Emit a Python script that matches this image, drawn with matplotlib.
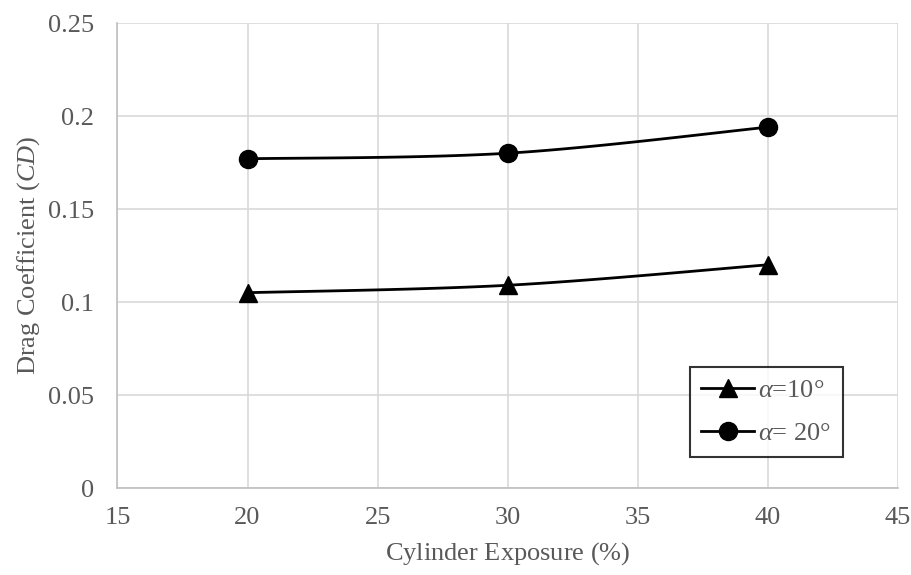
import numpy as np
import matplotlib
matplotlib.use("Agg")
import matplotlib.pyplot as plt
from matplotlib.lines import Line2D

# Drag coefficient vs. cylinder exposure for two angles of attack
exposure = [20, 30, 40]
cd_alpha10 = [0.105, 0.109, 0.120]
cd_alpha20 = [0.177, 0.180, 0.194]
series_labels = [r"$\alpha$=10°", r"$\alpha$= 20°"]
x_ticks = [15, 20, 25, 30, 35, 40, 45]
y_ticks = [0, 0.05, 0.1, 0.15, 0.2, 0.25]
y_tick_labels = ["0", "0.05", "0.1", "0.15", "0.2", "0.25"]

plt.rcParams["font.family"] = ["Liberation Serif", "DejaVu Serif"]
plt.rcParams["mathtext.fontset"] = "custom"
plt.rcParams["mathtext.rm"] = "Liberation Serif"
plt.rcParams["mathtext.it"] = "Liberation Serif:italic"
plt.rcParams["mathtext.default"] = "it"

TEXT = "#595959"
GRID = "#d9d9d9"
FS = 19


def smooth(xs, ys, n=60):
    """Cubic Bezier smoothing through the points (spreadsheet-style)."""
    pts = np.column_stack([xs, ys]).astype(float)
    out = []
    for i in range(len(pts) - 1):
        p0 = pts[i - 1] if i > 0 else pts[i]
        p1, p2 = pts[i], pts[i + 1]
        p3 = pts[i + 2] if i + 2 < len(pts) else pts[i + 1]
        c1 = p1 + (p2 - p0) / 6.0
        c2 = p2 - (p3 - p1) / 6.0
        t = np.linspace(0, 1, n)[:, None]
        seg = ((1 - t) ** 3) * p1 + 3 * ((1 - t) ** 2) * t * c1 + 3 * (1 - t) * t ** 2 * c2 + t ** 3 * p2
        out.append(seg if i == 0 else seg[1:])
    seg = np.vstack(out)
    return seg[:, 0], seg[:, 1]


fig = plt.figure(figsize=(9.12, 5.75), dpi=100)
ax = fig.add_axes([0.1288, 0.1513, 0.8558, 0.8087])

for ys, marker, ms in [(cd_alpha10, "^", 13), (cd_alpha20, "o", 13)]:
    sx, sy = smooth(exposure, ys)
    ax.plot(sx, sy, color="black", lw=2.0, zorder=3, solid_capstyle="round")
    ax.plot(exposure, ys, linestyle="none", marker=marker, ms=ms, color="black", zorder=4)

ax.set_xlim(15, 45)
ax.set_ylim(0, 0.25)
ax.set_xticks(x_ticks)
ax.set_yticks(y_ticks)
ax.set_yticklabels(y_tick_labels)
ax.grid(True, color=GRID, lw=1.2)
ax.set_axisbelow(True)
ax.tick_params(length=0, labelsize=FS, colors=TEXT)
ax.tick_params(axis="x", pad=14)
ax.tick_params(axis="y", pad=17)
for side in ["top", "right"]:
    ax.spines[side].set_visible(False)
for side in ["left", "bottom"]:
    ax.spines[side].set_color("#bfbfbf")
    ax.spines[side].set_linewidth(1.2)

ax.set_xlabel(r"Cylinder Exposure $(\%)$", fontsize=FS, color=TEXT, labelpad=8)
ax.set_ylabel(r"Drag Coefficient ($CD$)", fontsize=FS, color=TEXT, labelpad=4)

handles = [
    Line2D([], [], color="black", lw=2.0, marker="^", ms=13),
    Line2D([], [], color="black", lw=2.0, marker="o", ms=13),
]
leg = ax.legend(handles, series_labels, loc="lower right",
                bbox_to_anchor=(0.9295, 0.0667), fontsize=FS, frameon=True,
                fancybox=False, edgecolor="black", handlelength=2.0,
                handletextpad=0.15, borderpad=0.45, labelspacing=0.75,
                borderaxespad=0)
leg.get_frame().set_linewidth(1.5)
for t in leg.get_texts():
    t.set_color(TEXT)

fig.savefig("out.png", dpi=100, facecolor="white")
